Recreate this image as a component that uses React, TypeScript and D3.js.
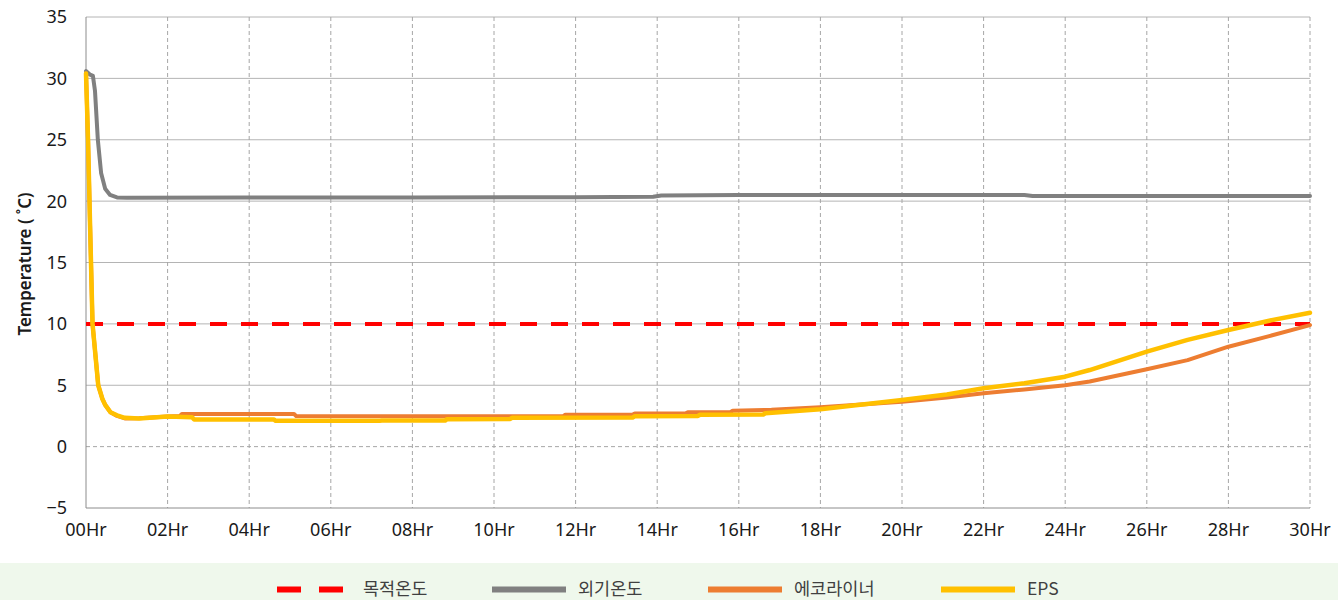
import * as d3 from "d3";
import {useEffect, useRef} from "react";

// hour ticks and y ticks
const xTicks = [0, 2, 4, 6, 8, 10, 12, 14, 16, 18, 20, 22, 24, 26, 28, 30];
const yTicks = [-5, 0, 5, 10, 15, 20, 25, 30, 35];

const targetTemp = 10;

// 외기온도
const outsideHours = [0, 0.1, 0.17, 0.22, 0.29, 0.37, 0.47, 0.59, 0.76, 1.0, 4, 8, 12, 13.9, 14.1, 16, 20, 23, 23.2, 30];
const outsideTemp = [30.6, 30.3, 30.2, 29, 25, 22.3, 21, 20.5, 20.3, 20.28, 20.3, 20.3, 20.32, 20.35, 20.45, 20.5, 20.5, 20.5, 20.42, 20.42];

// 에코라이너
const ecoHours = [0, 0.05, 0.1, 0.16, 0.3, 0.4, 0.47, 0.6, 0.76, 0.95, 1.3, 2.0, 2.3, 2.35, 5.1, 5.15, 9, 11.7, 11.75, 13.4, 13.45, 14.7, 14.75, 15.8, 15.85, 16.8, 18, 20, 21.1, 22, 23, 24, 24.6, 26, 27, 28, 29, 30];
const ecoTemp = [30.4, 25, 18, 10, 5, 3.9, 3.4, 2.8, 2.5, 2.3, 2.32, 2.45, 2.5, 2.65, 2.65, 2.5, 2.48, 2.48, 2.6, 2.62, 2.7, 2.72, 2.8, 2.82, 2.92, 3.0, 3.2, 3.65, 4.0, 4.34, 4.66, 5.0, 5.3, 6.3, 7.05, 8.14, 9.0, 9.9];

// EPS
const epsHours = [0, 0.05, 0.1, 0.16, 0.3, 0.4, 0.47, 0.6, 0.76, 0.95, 1.3, 2.0, 2.6, 2.65, 4.6, 4.65, 7.2, 7.25, 8.8, 8.85, 10.4, 10.45, 13.4, 13.45, 15.0, 15.05, 16.6, 16.65, 18, 20, 21.1, 22, 23, 24, 24.6, 26, 27, 28, 29, 30];
const epsTemp = [30.4, 25, 18, 10, 5, 3.9, 3.4, 2.8, 2.55, 2.35, 2.3, 2.45, 2.4, 2.22, 2.22, 2.1, 2.1, 2.12, 2.12, 2.24, 2.26, 2.36, 2.38, 2.47, 2.5, 2.6, 2.62, 2.72, 3.05, 3.8, 4.25, 4.75, 5.16, 5.7, 6.24, 7.74, 8.7, 9.5, 10.26, 10.9];

const legendNames = ["목적온도", "외기온도", "에코라이너", "EPS"];
const colors = ["#ff0000", "#808080", "#ed7d31", "#ffc000"];

const FONT = "'Noto Sans', sans-serif";
const KFONT = "'Noto Sans CJK KR', 'Noto Sans', sans-serif";

const App = () => {
    const svgRef = useRef(null);
    const width = 1338;
    const height = 600;

    useEffect(() => {
        if (!svgRef.current) return;
        document.body.style.margin = "0";

        d3.select(svgRef.current).selectAll("*").remove();

        const margin = {top: 17, right: 28, bottom: 92, left: 86};
        const innerWidth = width - margin.left - margin.right;
        const innerHeight = height - margin.top - margin.bottom;

        const xScale = d3.scaleLinear().domain([0, 30]).range([0, innerWidth]);
        const yScale = d3.scaleLinear().domain([-5, 35]).range([innerHeight, 0]);

        const svg = d3.select(svgRef.current)
            .attr("width", width)
            .attr("height", height);

        svg.append("rect")
            .attr("width", width).attr("height", height)
            .attr("fill", "#ffffff");

        const g = svg.append("g")
            .attr("transform", `translate(${margin.left},${margin.top})`);

        // horizontal grid (0 is dashed, the rest solid)
        g.append("g")
            .selectAll("line")
            .data(yTicks.filter(v => v > -5))
            .enter()
            .append("line")
            .attr("x1", 0).attr("x2", innerWidth)
            .attr("y1", d => yScale(d)).attr("y2", d => yScale(d))
            .attr("stroke", d => d === 0 ? "#a6a6a6" : "#b4b4b4")
            .attr("stroke-width", 1)
            .attr("stroke-dasharray", d => d === 0 ? "4,3" : null);

        // vertical grid, dashed
        g.append("g")
            .selectAll("line")
            .data(xTicks.filter(v => v > 0))
            .enter()
            .append("line")
            .attr("x1", d => xScale(d)).attr("x2", d => xScale(d))
            .attr("y1", 0).attr("y2", innerHeight)
            .attr("stroke", "#a6a6a6")
            .attr("stroke-width", 1)
            .attr("stroke-dasharray", "4,3");

        // axes lines
        g.append("line")
            .attr("x1", 0).attr("x2", 0).attr("y1", 0).attr("y2", innerHeight)
            .attr("stroke", "#8c8c8c");
        g.append("line")
            .attr("x1", 0).attr("x2", innerWidth).attr("y1", innerHeight).attr("y2", innerHeight)
            .attr("stroke", "#8c8c8c");

        // tick labels
        g.append("g")
            .selectAll("text")
            .data(yTicks)
            .enter()
            .append("text")
            .attr("x", -19)
            .attr("y", d => yScale(d))
            .attr("dy", "0.36em")
            .attr("text-anchor", "end")
            .attr("font-family", FONT)
            .attr("font-size", 18)
            .attr("fill", "#1a1a1a")
            .text(d => d < 0 ? `\u2212${Math.abs(d)}` : `${d}`);

        g.append("g")
            .selectAll("text")
            .data(xTicks)
            .enter()
            .append("text")
            .attr("x", d => xScale(d))
            .attr("y", innerHeight + 22)
            .attr("dy", "0.36em")
            .attr("text-anchor", "middle")
            .attr("font-family", FONT)
            .attr("font-size", 18)
            .attr("fill", "#1a1a1a")
            .text(d => `${String(d).padStart(2, "0")}Hr`);

        // y title
        svg.append("text")
            .attr("transform", `translate(25, 264) rotate(-90)`)
            .attr("text-anchor", "middle")
            .attr("dy", "0.35em")
            .attr("font-family", FONT)
            .attr("font-size", 17)
            .attr("font-weight", 600)
            .attr("fill", "#1a1a1a")
            .text("Temperature ( ˚C)");

        const line = d3.line<[number, number]>()
            .x(d => xScale(d[0]))
            .y(d => yScale(d[1]))
            .curve(d3.curveLinear);

        const plotLine = (hours: number[], temps: number[], color: string, w: number) => {
            g.append("path")
                .datum(hours.map((h, i) => [h, temps[i]] as [number, number]))
                .attr("fill", "none")
                .attr("stroke", color)
                .attr("stroke-width", w)
                .attr("stroke-linejoin", "round")
                .attr("stroke-linecap", "round")
                .attr("d", line);
        };

        // target line
        g.append("line")
            .attr("x1", 0).attr("x2", innerWidth)
            .attr("y1", yScale(targetTemp)).attr("y2", yScale(targetTemp))
            .attr("stroke", colors[0])
            .attr("stroke-width", 4)
            .attr("stroke-dasharray", "17,14");

        plotLine(outsideHours, outsideTemp, colors[1], 4);
        plotLine(ecoHours, ecoTemp, colors[2], 4);
        plotLine(epsHours, epsTemp, colors[3], 4.5);

        // legend band
        svg.append("rect")
            .attr("x", 0).attr("y", 563)
            .attr("width", width).attr("height", 37)
            .attr("fill", "#eff8ec");

        const legendX = [277, 492, 708, 941];
        const legendY = 589.5;
        legendNames.forEach((name, i) => {
            const lg = svg.append("g");
            if (i === 0) {
                lg.append("line")
                    .attr("x1", legendX[i]).attr("x2", legendX[i] + 66)
                    .attr("y1", legendY).attr("y2", legendY)
                    .attr("stroke", colors[i])
                    .attr("stroke-width", 6)
                    .attr("stroke-dasharray", "24,18");
            } else {
                lg.append("line")
                    .attr("x1", legendX[i]).attr("x2", legendX[i] + 74)
                    .attr("y1", legendY).attr("y2", legendY)
                    .attr("stroke", colors[i])
                    .attr("stroke-width", 6);
            }
            lg.append("text")
                .attr("x", legendX[i] + (i === 0 ? 86 : 86))
                .attr("y", legendY - 1)
                .attr("dy", "0.35em")
                .attr("font-family", KFONT)
                .attr("font-size", 17.5)
                .attr("fill", "#404040")
                .text(name);
        });
    }, []);

    return <svg ref={svgRef} style={{display: "block"}}></svg>;
};

export default App;
